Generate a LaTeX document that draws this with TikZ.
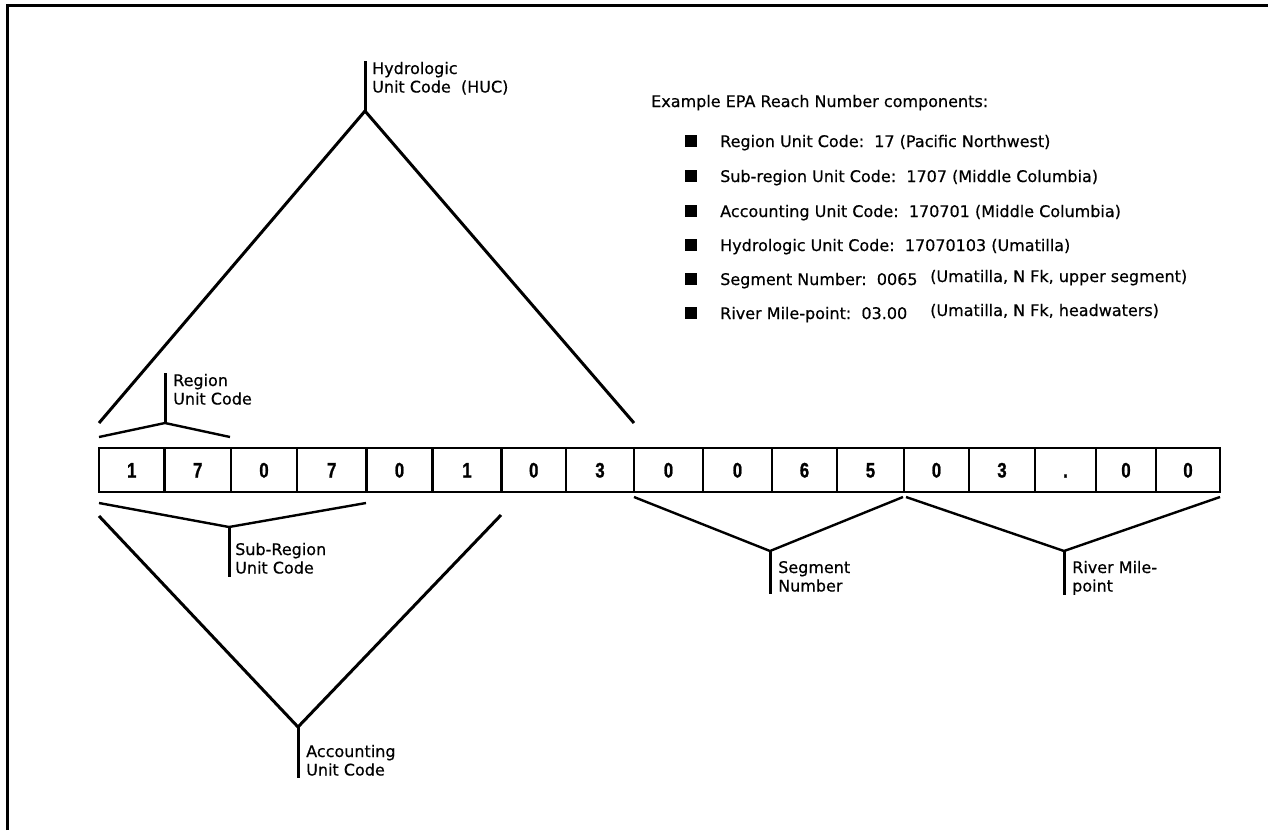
\documentclass[tikz,border=0pt]{standalone}
\usepackage{fontspec}
\setmainfont[FakeBold=0.5]{DejaVu Sans}
\newfontfamily\digitfont[FakeStretch=0.8,FakeBold=1]{Liberation Sans}
\begin{document}
\begin{tikzpicture}[x=1pt,y=1pt,
    cell/.style={draw,line width=2.4pt,inner sep=0pt,minimum height=44pt,
      text height=15pt,text depth=0pt,font=\digitfont\fontsize{21}{21}\selectfont\bfseries},
    leg/.style={line width=3pt},
    brace/.style={line width=2.4pt},
    tick/.style={line width=3pt},
    lbl/.style={anchor=base west,inner sep=0pt,align=left,font=\fontsize{16}{18.5}\selectfont},
    item/.style={anchor=base west,inner sep=0pt,font=\fontsize{16}{18.5}\selectfont},
    bullet/.style={fill,inner sep=0pt,minimum size=12pt}]
  \path[use as bounding box,fill=white] (0,0) rectangle (1268,-830);
  \draw[line width=3pt] (7,-830) -- (7,-5.5) -- (1268,-5.5);
  \foreach \a/\b/\d [count=\i] in {99/164.5/1,164.5/231/7,231/297/0,297/366.5/7,
      366.5/432.5/0,432.5/501.5/1,501.5/566/0,566/634/3,634/703/0,703/772/0,
      772/837/6,837/904/5,904/969/0,969/1035/3,1035/1096/.,1096/1156/0,1156/1220/0}
    \node[cell,minimum width={(\b-\a)*1pt}] (c\i) at ({(\a+\b)/2},-470) {\d};
  \coordinate (hucL) at (99,-423);
  \coordinate (hucT) at (365,-111);
  \coordinate (hucR) at (634,-423);
  \coordinate (regL) at (99,-437);
  \coordinate (regT) at (165,-423);
  \coordinate (regR) at (230,-437);
  \coordinate (subL) at (99,-503);
  \coordinate (subT) at (229,-527);
  \coordinate (subR) at (366,-503);
  \coordinate (accL) at (99,-516);
  \coordinate (accT) at (298,-727);
  \coordinate (accR) at (501,-515);
  \coordinate (segL) at (634,-497);
  \coordinate (segT) at (770,-551);
  \coordinate (segR) at (903,-497);
  \coordinate (rivL) at (906,-497);
  \coordinate (rivT) at (1064,-551);
  \coordinate (rivR) at (1220,-497);
  \draw[leg] (hucL) -- (hucT) -- (hucR);
  \draw[leg] (accL) -- (accT) -- (accR);
  \draw[brace] (regL) -- (regT) -- (regR);
  \draw[brace] (subL) -- (subT) -- (subR);
  \draw[brace] (segL) -- (segT) -- (segR);
  \draw[brace] (rivL) -- (rivT) -- (rivR);
  \node[lbl] (huc) at (372,-92.5) {Hydrologic\\Unit Code\ \ (HUC)};
  \node[lbl] (reg) at (173,-404.5) {Region\\Unit Code};
  \node[lbl] (sub) at (235,-573.5) {Sub-Region\\Unit Code};
  \node[lbl] (acc) at (306,-775.5) {Accounting\\Unit Code};
  \node[lbl] (seg) at (778,-591.5) {Segment\\Number};
  \node[lbl] (riv) at (1072,-591.5) {River Mile-\\point};
  \draw[tick] (hucT) -- ([yshift=1pt]huc.north -| hucT);
  \draw[tick] (regT) -- ([yshift=1pt]reg.north -| regT);
  \draw[tick] (subT) -- ([yshift=-3pt]sub.south -| subT);
  \draw[tick] (accT) -- ([yshift=-2pt]acc.south -| accT);
  \draw[tick] (segT) -- ([yshift=-2pt]seg.south -| segT);
  \draw[tick] (rivT) -- (riv.south -| rivT);
  \node[item] (title) at (651,-107) {Example EPA Reach Number components:};
  \foreach \y/\t [count=\i] in {147/{Region Unit Code:\ \ 17 (Pacific Northwest)},
      182/{Sub-region Unit Code:\ \ 1707 (Middle Columbia)},
      217/{Accounting Unit Code:\ \ 170701 (Middle Columbia)},
      251/{Hydrologic Unit Code:\ \ 17070103 (Umatilla)},
      285/{Segment Number:\ \ 0065},
      319/{River Mile-point:\ \ 03.00}}{
    \node[bullet] (b\i) at (691,-\y+6) {};
    \node[item] (t\i) at (720,-\y) {\t};
  }
  \node[item] (n5) at (930,-282) {(Umatilla, N Fk, upper segment)};
  \node[item] (n6) at (930,-316) {(Umatilla, N Fk, headwaters)};
\end{tikzpicture}
\end{document}
